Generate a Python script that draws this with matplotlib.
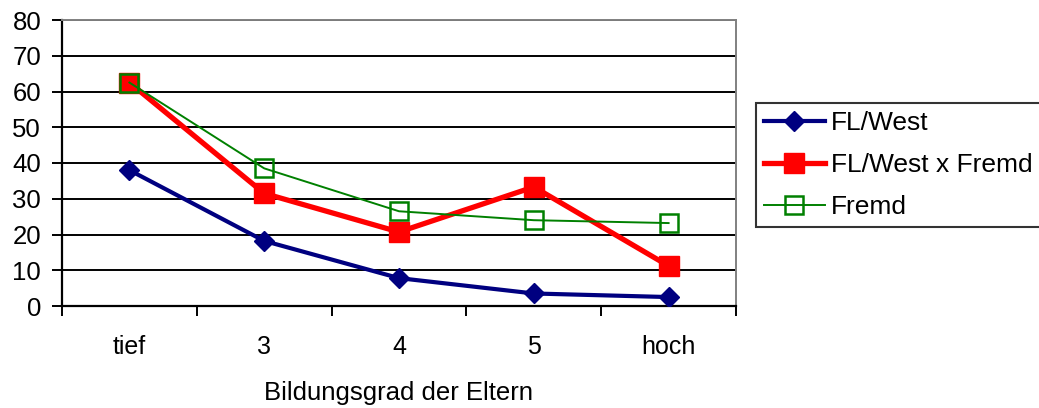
import matplotlib
matplotlib.use("Agg")
import matplotlib.pyplot as plt

plt.rcParams['font.family'] = ['Liberation Sans', 'DejaVu Sans']

categories = ["tief", "3", "4", "5", "hoch"]
fl_west = [38.0, 18.2, 7.8, 3.5, 2.5]
fl_west_fremd = [62.5, 31.5, 20.7, 33.3, 11.2]
fremd = [62.5, 38.5, 26.5, 24.0, 23.2]

W, H = 1039, 408
fig = plt.figure(figsize=(W / 100, H / 100), dpi=100)
ax = fig.add_axes([62 / W, 1 - 306 / H, (736 - 62) / W, (306 - 20) / H])

x = list(range(len(categories)))
ax.plot(x, fl_west, color="#000080", lw=3.0, marker="D", ms=10.5,
        label="FL/West", zorder=3)
ax.plot(x, fl_west_fremd, color="#ff0000", lw=3.8, marker="s", ms=14,
        label="FL/West x Fremd", zorder=4)
ax.plot(x, fremd, color="#008000", lw=1.4, marker="s", ms=12.5,
        mfc="none", mew=1.8, label="Fremd", zorder=5)

ax.set_xlim(-0.5, len(categories) - 0.5)
ax.set_ylim(0, 80)
ax.set_yticks(range(0, 81, 10))
ax.yaxis.grid(True, color="black", lw=1.4)
ax.set_axisbelow(True)

ax.set_xticks(x)
ax.set_xticklabels(categories)
ax.set_xticks([i - 0.5 for i in range(len(categories) + 1)], minor=True)
ax.tick_params(axis="x", which="major", length=0, pad=21, labelsize=18)
ax.tick_params(axis="x", which="minor", length=7, width=1.4, direction="out")
ax.tick_params(axis="y", length=7, width=1.4, direction="out", labelsize=18.5, pad=8)

for side in ("top", "right"):
    ax.spines[side].set_color("#808080")
    ax.spines[side].set_linewidth(1.4)
for side in ("left", "bottom"):
    ax.spines[side].set_color("black")
    ax.spines[side].set_linewidth(1.6)

ax.set_xlabel("Bildungsgrad der Eltern", fontsize=18.5, labelpad=16)

handles, labels = ax.get_legend_handles_labels()
leg = fig.legend(handles, labels, loc="upper left",
                 bbox_to_anchor=(756 / W, 1 - 103 / H),
                 bbox_transform=fig.transFigure, fontsize=19,
                 frameon=True, fancybox=False, edgecolor="black",
                 handlelength=2.3, handletextpad=0.25, borderpad=0.3,
                 labelspacing=0.68, borderaxespad=0)
leg.get_frame().set_linewidth(1.5)

fig.savefig("out.png", dpi=100)
